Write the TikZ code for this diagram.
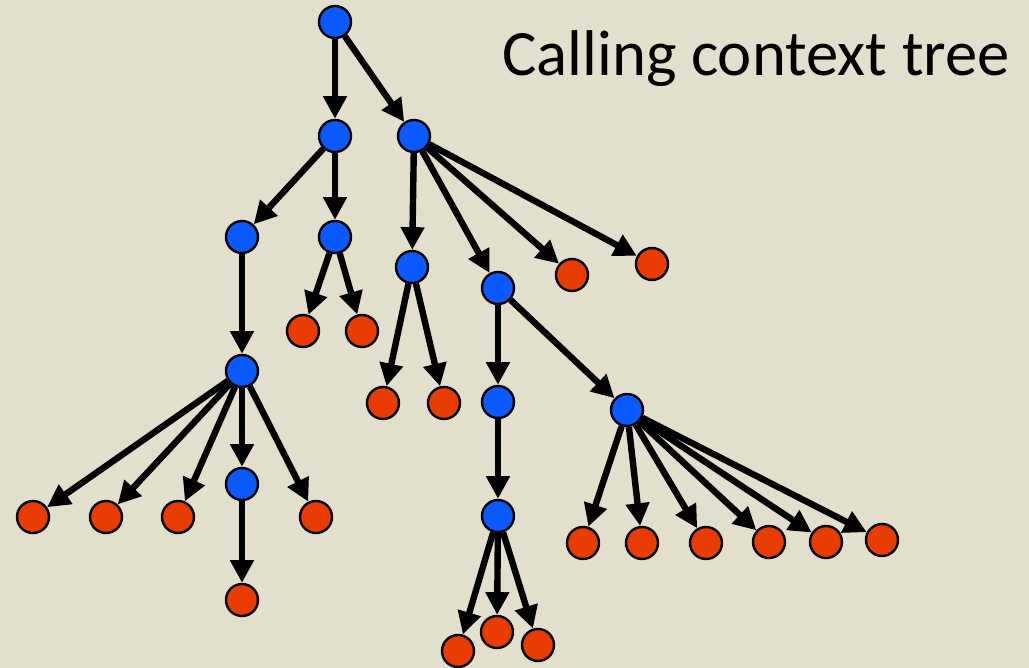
\documentclass[tikz,border=0pt]{standalone}
\usepackage{fontspec}
\setmainfont{Carlito}
\usetikzlibrary{arrows.meta}
\definecolor{slidebg}{HTML}{E2DFCC}
\definecolor{ctxblue}{HTML}{0A5AFF}
\definecolor{ctxred}{HTML}{E83C00}
\tikzset{
	ctxnode/.style={circle, draw=black, line width=1.8pt, minimum size=24pt, inner sep=0pt},
	inner/.style={ctxnode, fill=ctxblue},
	leaf/.style={ctxnode, fill=ctxred},
	callarr/.style={-{Triangle[length=17pt, width=17pt]}, line width=4.8pt, draw=black}
}

\begin{document}
\begin{tikzpicture}[x=0.75pt, y=-0.75pt]
	\fill[slidebg] (0,0) rectangle (1029,668);
	\useasboundingbox (0,0) rectangle (1029,668);
	\node[anchor=base west, inner sep=0pt, font=\fontsize{48.5}{58}\selectfont] (title) at (502,75) {Calling context tree};
	% calling contexts
	\node[inner] (root) at (335,22) {};
	\node[inner] (a) at (335,136) {};
	\node[inner] (b) at (414,136) {};
	\node[inner] (a1) at (242,237) {};
	\node[inner] (a2) at (335,237) {};
	\node[leaf] (a2l) at (303,331) {};
	\node[leaf] (a2r) at (362,331) {};
	\node[inner] (a1c) at (242,371) {};
	\node[leaf] (a1c1) at (33,517) {};
	\node[leaf] (a1c2) at (106,517) {};
	\node[leaf] (a1c3) at (178,517) {};
	\node[inner] (a1c4) at (242,484) {};
	\node[leaf] (a1c5) at (316,517) {};
	\node[leaf] (a1c4l) at (242,600) {};
	\node[inner] (b1) at (412,267) {};
	\node[inner] (b2) at (498,288) {};
	\node[leaf] (b3) at (572,275) {};
	\node[leaf] (b4) at (652,264) {};
	\node[leaf] (b1l) at (383,403) {};
	\node[leaf] (b1r) at (444,403) {};
	\node[inner] (b2a) at (498,402) {};
	\node[inner] (b2b) at (627,410) {};
	\node[inner] (b2a1) at (498,516) {};
	\node[leaf] (b2a1l) at (458,651) {};
	\node[leaf] (b2a1m) at (497,632) {};
	\node[leaf] (b2a1r) at (538,645) {};
	\node[leaf] (b2b1) at (583,543) {};
	\node[leaf] (b2b2) at (642,543) {};
	\node[leaf] (b2b3) at (706,543) {};
	\node[leaf] (b2b4) at (769,542) {};
	\node[leaf] (b2b5) at (826,542) {};
	\node[leaf] (b2b6) at (882,540) {};
	% call edges
	\foreach \a/\b in {root/a, root/b, a/a1, a/a2, a2/a2l, a2/a2r, a1/a1c,
			a1c/a1c1, a1c/a1c2, a1c/a1c3, a1c/a1c4, a1c/a1c5, a1c4/a1c4l,
			b/b1, b/b2, b/b3, b/b4, b1/b1l, b1/b1r, b2/b2a, b2/b2b, b2a/b2a1,
			b2a1/b2a1l, b2a1/b2a1m, b2a1/b2a1r,
			b2b/b2b1, b2b/b2b2, b2b/b2b3, b2b/b2b4, b2b/b2b5, b2b/b2b6}
		\draw[callarr] (\a) -- (\b);
\end{tikzpicture}
\end{document}
